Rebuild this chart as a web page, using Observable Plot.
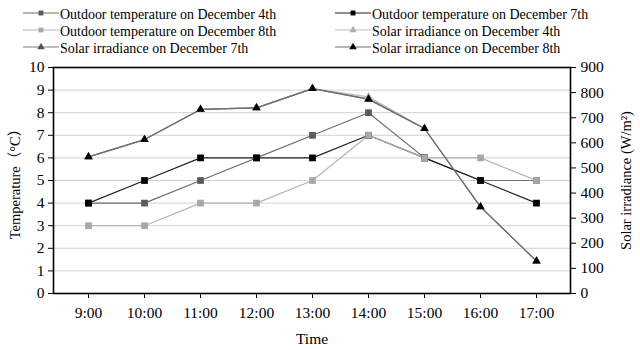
<!DOCTYPE html>
<html>
<head>
<meta charset="utf-8">
<script src="https://cdn.jsdelivr.net/npm/d3@7"></script>
<script src="https://cdn.jsdelivr.net/npm/@observablehq/plot@0.6"></script>
<style>
  html, body { margin: 0; padding: 0; background: #fff; }
  body { width: 640px; height: 350px; overflow: hidden; font-family: "Liberation Serif", "Times New Roman", "Noto Sans CJK SC", serif; }
  #legend { position: relative; height: 60px; }
  .item { position: absolute; display: flex; align-items: center; font-size: 15.5px; line-height: 17px; white-space: nowrap; color: #000; }
  .item svg { margin-right: 1px; flex: none; }
  .item span { display: inline-block; transform: scaleX(0.9); transform-origin: left center; }
  g[aria-label="y-axis label"] { font-size: 14.5px; }
</style>
</head>
<body>
<div id="legend"></div>
<div id="chart"></div>
<script>
// ---- data ----
const times = ["9:00", "10:00", "11:00", "12:00", "13:00", "14:00", "15:00", "16:00", "17:00"];
const tempDec4 = [4, 4, 5, 6, 7, 8, 6, 5, 5];
const tempDec7 = [4, 5, 6, 6, 6, 7, 6, 5, 4];
const tempDec8 = [3, 3, 4, 4, 5, 7, 6, 6, 5];
const solarDec4 = [544, 613, 733, 739, 816, 783, 657, 345, 129];
const solarDec7 = [544, 613, 733, 739, 816, 775, 657, 345, 129];
const solarDec8 = [544, 613, 733, 739, 816, 773, 657, 345, 129];
const tempTicks = [0, 1, 2, 3, 4, 5, 6, 7, 8, 9, 10];
const solarTicks = [0, 100, 200, 300, 400, 500, 600, 700, 800, 900];
const solarMax = 900;
const tempMax = 10;

// ---- series config (styles) ----
const series = [
  {name: "Outdoor temperature on December 4th", kind: "temp", values: tempDec4, line: "#6e6e6e", mark: "#5a5a5a", symbol: "square"},
  {name: "Outdoor temperature on December 7th", kind: "temp", values: tempDec7, line: "#222", mark: "#000", symbol: "square"},
  {name: "Outdoor temperature on December 8th", kind: "temp", values: tempDec8, line: "#b4b4b4", mark: "#a8a8a8", symbol: "square"},
  {name: "Solar irradiance on December 4th", kind: "solar", values: solarDec4, line: "#bdbdbd", mark: "#b0b0b0", symbol: "triangle"},
  {name: "Solar irradiance on December 7th", kind: "solar", values: solarDec7, line: "#7a7a7a", mark: "#555", symbol: "triangle"},
  {name: "Solar irradiance on December 8th", kind: "solar", values: solarDec8, line: "#707070", mark: "#000", symbol: "triangle"}
];

const ratio = solarMax / tempMax;
const rows = series.flatMap(s => times.map((t, i) => ({
  series: s.name, time: t, v: s.kind === "temp" ? s.values[i] : s.values[i] / ratio
})));

// ---- legend ----
const legend = document.getElementById("legend");
series.forEach((s, i) => {
  const col = i % 2, row = Math.floor(i / 2);
  const div = document.createElement("div");
  div.className = "item";
  div.style.left = (col === 0 ? 23 : 335) + "px";
  div.style.top = (4.5 + row * 17) + "px";
  const ns = "http://www.w3.org/2000/svg";
  const svg = document.createElementNS(ns, "svg");
  svg.setAttribute("width", 36); svg.setAttribute("height", 12);
  const ln = document.createElementNS(ns, "line");
  ln.setAttribute("x1", 0); ln.setAttribute("x2", 36); ln.setAttribute("y1", 6); ln.setAttribute("y2", 6);
  ln.setAttribute("stroke", s.line); ln.setAttribute("stroke-width", 1.2);
  svg.appendChild(ln);
  const p = document.createElementNS(ns, "path");
  p.setAttribute("d", d3.symbol(s.symbol === "square" ? d3.symbolSquare : d3.symbolTriangle, 24)());
  p.setAttribute("transform", "translate(18,6)");
  p.setAttribute("fill", s.mark);
  svg.appendChild(p);
  div.appendChild(svg);
  const span = document.createElement("span");
  span.textContent = s.name;
  div.appendChild(span);
  legend.appendChild(div);
});

// ---- chart ----
const marks = [
  Plot.gridY(tempTicks.filter(d => d > 0 && d < tempMax), {stroke: "#d2d2d2", strokeOpacity: 1, strokeWidth: 1})
];
series.forEach(s => {
  marks.push(Plot.lineY(rows.filter(r => r.series === s.name), {x: "time", y: "v", stroke: s.line, strokeWidth: 1.2}));
});
series.forEach(s => {
  marks.push(Plot.dot(rows.filter(r => r.series === s.name), {
    x: "time", y: "v", symbol: () => s.symbol, fill: s.mark, stroke: "none",
    r: s.symbol === "square" ? 3.8 : 3.1
  }));
});
marks.push(
  Plot.axisY(tempTicks, {anchor: "left", tickSize: 5, tickPadding: 4, label: "Temperature（°C）", labelAnchor: "center", labelOffset: 44, labelArrow: "none"}),
  Plot.axisY(solarTicks.map(d => d / ratio), {anchor: "right", tickSize: 5, tickPadding: 5, tickFormat: d => Math.round(d * ratio), label: "Solar irradiance (W/m²)", labelAnchor: "center", labelOffset: 60, labelArrow: "none"}),
  Plot.axisX({tickSize: 5, tickPadding: 8, label: "Time", labelAnchor: "center", labelOffset: 50, labelArrow: "none"}),
  Plot.frame({stroke: "#000", strokeWidth: 1.6})
);

const chart = Plot.plot({
  width: 640,
  height: 290,
  marginTop: 7,
  marginBottom: 57,
  marginLeft: 53,
  marginRight: 70,
  style: {fontFamily: '"Liberation Serif", "Times New Roman", "Noto Sans CJK SC", serif', fontSize: "15.5px", color: "#000", background: "#fff", overflow: "visible"},
  x: {type: "point", domain: times, padding: 0.55, axis: null},
  y: {domain: [0, tempMax], axis: null},
  symbol: {type: "identity"},
  marks
});
document.getElementById("chart").appendChild(chart);
</script>
</body>
</html>
